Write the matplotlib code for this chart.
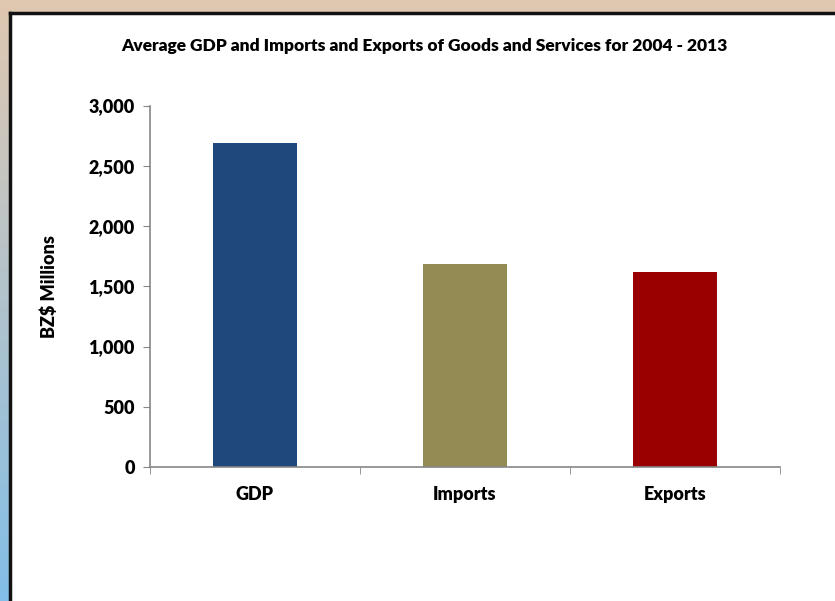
import numpy as np
import matplotlib
matplotlib.use("Agg")
import matplotlib.pyplot as plt
from matplotlib.patches import Rectangle

categories = ["GDP", "Imports", "Exports"]
values = [2687, 1688, 1619]
bar_colors = ["#1f497d", "#948a54", "#990000"]
yticks = [0, 500, 1000, 1500, 2000, 2500, 3000]

W, H = 835, 601
fig = plt.figure(figsize=(W / 100, H / 100), dpi=100)
plt.rcParams['font.family'] = ['Lato', 'DejaVu Sans']

# slide background: beige at top fading to light blue at bottom
bg = fig.add_axes([0, 0, 1, 1], zorder=0)
top = np.array([224, 200, 176]) / 255
bot = np.array([130, 190, 232]) / 255
t = np.linspace(0, 1, 200)[:, None]
grad = (1 - t) * top + t * bot
bg.imshow(grad[:, None, :], aspect="auto", extent=[0, 1, 0, 1])
bg.set_xlim(0, 1)
bg.set_ylim(0, 1)
bg.axis("off")

# white chart panel with dark border on top and left
px, py = 10 / W, 0
pw, ph = 1 - px, 1 - 13 / H
bg.add_patch(Rectangle((px, py), pw, ph, facecolor="white", edgecolor="none", zorder=2))
bg.plot([px, 1], [py + ph, py + ph], color="#111111", lw=2.5, zorder=3)
bg.plot([px, px], [py, py + ph], color="#111111", lw=2.5, zorder=3)

ax = fig.add_axes([150 / W, 1 - 467 / H, 630 / W, (467 - 105.5) / H], zorder=1)
ax.patch.set_alpha(0)
x = np.arange(len(categories))
ax.bar(x, values, width=0.4, color=bar_colors, zorder=2)
ax.set_xlim(-0.5, 2.5)
ax.set_ylim(0, 3000)
ax.set_yticks(yticks)
ax.set_yticklabels([f"{v:,}" for v in yticks], fontsize=13, fontweight="heavy")
ax.set_xticks(x)
ax.set_xticklabels(categories, fontsize=13, fontweight="heavy")
ax.set_xticks([-0.5, 0.5, 1.5, 2.5], minor=True)
ax.tick_params(axis="x", which="major", length=0, pad=14)
ax.tick_params(axis="x", which="minor", length=5, color="#868686", direction="out")
ax.tick_params(axis="y", length=5, color="#868686", pad=6)
for s in ["top", "right"]:
    ax.spines[s].set_visible(False)
for s in ["left", "bottom"]:
    ax.spines[s].set_color("#868686")
    ax.spines[s].set_linewidth(1.2)
ax.set_ylabel("BZ$ Millions", fontsize=13, fontweight="heavy", labelpad=22)

fig.text(424 / W, 1 - 46 / H,
         "Average GDP and Imports and Exports of Goods and Services for 2004 - 2013",
         ha="center", va="center", fontsize=12.5, fontweight="heavy", zorder=5)

fig.savefig("out.png", dpi=100)
